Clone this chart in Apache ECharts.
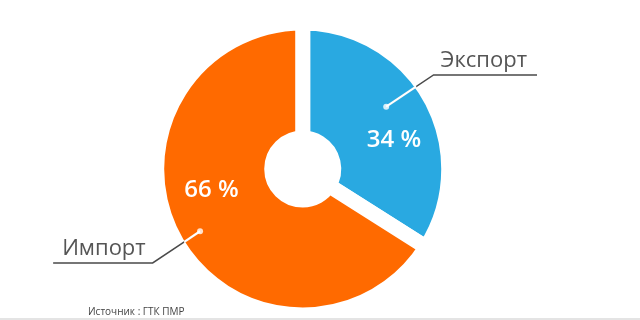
<!DOCTYPE html>
<html>
<head>
<meta charset="utf-8">
<script src="https://cdn.jsdelivr.net/npm/echarts@6/dist/echarts.min.js"></script>
<style>
html,body{margin:0;padding:0;background:#fff;}
#chart{width:640px;height:320px;}
</style>
</head>
<body>
<div id="chart"></div>
<script>
const categories = ['Экспорт', 'Импорт'];
const values = [34, 66];
const sourceText = 'Источник : ГТК ПМР';

const colors = ['#29a9e1', '#ff6a00'];
const innerShift = [[11, 15], [-11, -23]];
const whiteLen = [36, 19];

const total = values.reduce((a, b) => a + b, 0);
const mids = [];
let acc = 0;
values.forEach(v => { mids.push((acc + v / 2) / total * 100); acc += v; });

const chart = echarts.init(document.getElementById('chart'));
const font = "'Open Sans', 'DejaVu Sans', sans-serif";

chart.setOption({
  animation: false,
  backgroundColor: '#fff',
  title: {
    text: sourceText,
    left: 88, top: 307, padding: 0,
    textStyle: { fontSize: 10, color: '#444', fontWeight: 'normal', fontFamily: font }
  },
  graphic: [{
    type: 'rect', left: 0, bottom: 0, z: 10,
    shape: { width: 640, height: 2 },
    style: { fill: '#e4e4e4' }
  }],
  polar: { center: ['45.8%', '52.8%'], radius: 112 },
  angleAxis: { type: 'value', min: 0, max: 100, startAngle: 95, clockwise: true, show: false },
  radiusAxis: { type: 'value', min: 0, max: 1, show: false },
  series: [
    {
      type: 'pie', z: 2, silent: true,
      center: ['47.3%', '52.8%'],
      radius: [31, 146],
      startAngle: 90, clockwise: true,
      itemStyle: { borderColor: '#fff', borderWidth: 15 },
      data: categories.map((c, i) => ({ name: c, value: values[i], itemStyle: { color: colors[i] } })),
      label: {
        show: true, position: 'inside', formatter: '{c} %',
        color: '#fff', fontSize: 24, fontWeight: 600, fontFamily: font
      },
      labelLayout: p => ({ dx: innerShift[p.dataIndex][0], dy: innerShift[p.dataIndex][1] }),
      labelLine: { show: false }
    },
    {
      type: 'pie', z: 3, silent: true,
      center: ['45.8%', '52.8%'],
      radius: 112,
      startAngle: 95, clockwise: true,
      itemStyle: { color: 'transparent' },
      data: categories.map((c, i) => ({ name: c, value: values[i] })),
      label: {
        show: true, position: 'outside', formatter: '{b}',
        color: '#555', fontSize: 22, lineHeight: 22, fontFamily: font,
        distanceToLabelLine: 5
      },
      labelLine: { show: true, length: 57, length2: 2, lineStyle: { color: '#4a4a4a', width: 1.5 } },
      labelLayout: p => {
        const pts = p.labelLinePoints;
        const r = p.labelRect;
        const isLeft = pts[2][0] < pts[1][0];
        pts[2][0] = isLeft ? r.x - 9 : r.x + r.width + 10;
        return { labelLinePoints: pts, dy: -14 };
      }
    },
    {
      type: 'pie', z: 4, silent: true,
      center: ['45.8%', '52.8%'],
      radius: 112,
      startAngle: 95, clockwise: true,
      itemStyle: { color: 'transparent' },
      data: categories.map((c, i) => ({ name: c, value: values[i], labelLine: { length: whiteLen[i] } })),
      label: { show: true, position: 'outside', formatter: '{b}', color: 'transparent', fontSize: 10 },
      labelLine: { show: true, length2: 0.1, lineStyle: { color: '#fff', width: 2.2 } }
    },
    {
      type: 'scatter', coordinateSystem: 'polar', z: 5, silent: true,
      symbol: 'circle', symbolSize: 6,
      itemStyle: { color: '#fff' },
      data: mids.map(m => [1, m])
    }
  ]
});
</script>
</body>
</html>
